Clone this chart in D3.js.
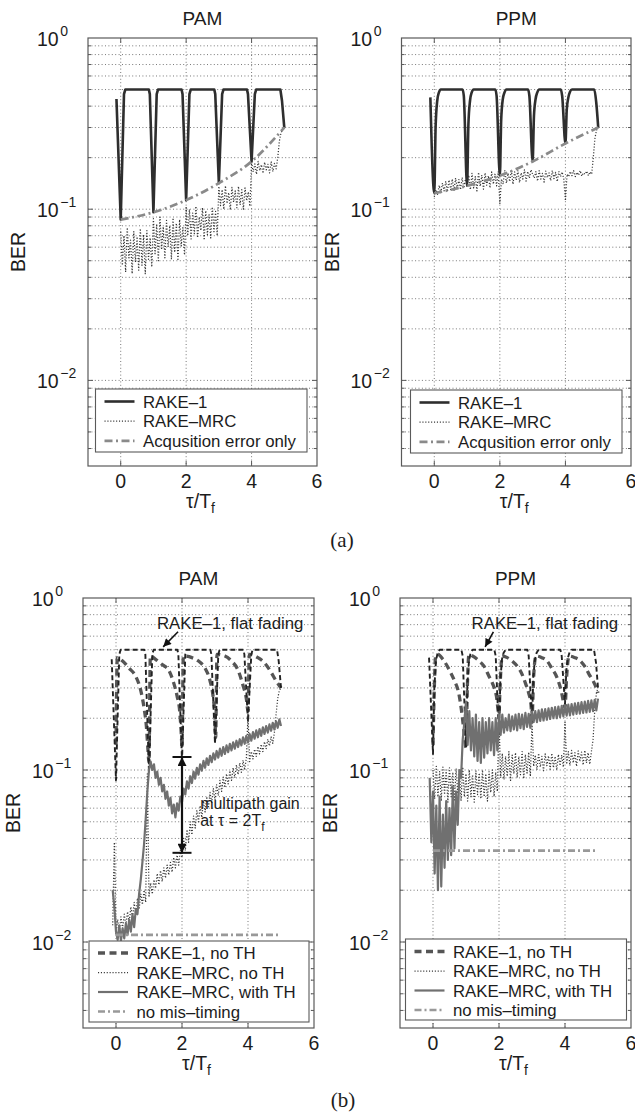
<!DOCTYPE html>
<html><head><meta charset="utf-8">
<script src="https://cdn.jsdelivr.net/npm/d3@7"></script>
<style>
body{margin:0;background:#fff;}
svg{display:block;font-family:"Liberation Sans",Arial,Helvetica,sans-serif;}
</style></head><body>
<script>
// ---------- axes ----------
const tauDomain = [-1, 6];
const berDomain = [Math.pow(10, -2.5), 1];
const tauTicks = [0, 2, 4, 6];
const berDecades = [1, 0.1, 0.01];

// ---------- (a) RAKE-1 under flat fading (also reused in (b)) ----------
const pamRake1Tau = [-0.13,0,0.1,0.14, 0.86,0.89,1,1.1,1.14, 1.86,1.89,2,2.1,2.14, 2.86,2.89,3,3.1,3.14, 3.86,3.89,4,4.1,4.14, 4.88,4.93,5];
const pamRake1Ber = [0.44,0.087,0.47,0.5, 0.5,0.47,0.096,0.47,0.5, 0.5,0.47,0.113,0.47,0.5, 0.5,0.47,0.142,0.47,0.5, 0.5,0.47,0.19,0.47,0.5, 0.5,0.43,0.3];
const ppmRake1Tau = [-0.12,0,0.04,0.09,0.14,0.2, 0.86,0.9,1,1.04,1.09,1.14,1.2, 1.86,1.9,2,2.04,2.09,2.14,2.2, 2.86,2.9,3,3.04,3.09,3.14,3.2, 3.86,3.9,4,4.04,4.09,4.14,4.2, 4.88,4.94,5];
const ppmRake1Ber = [0.45,0.124,0.3,0.43,0.48,0.5, 0.5,0.46,0.137,0.31,0.43,0.48,0.5, 0.5,0.46,0.157,0.33,0.44,0.48,0.5, 0.5,0.46,0.19,0.35,0.44,0.48,0.5, 0.5,0.46,0.242,0.38,0.45,0.485,0.5, 0.5,0.42,0.3];

// acquisition error only
const acqTau = [0, 1, 2, 3, 4, 5];
const pamAcqBer = [0.087, 0.096, 0.113, 0.142, 0.19, 0.3];
const ppmAcqBer = [0.124, 0.137, 0.157, 0.19, 0.242, 0.3];

// RAKE-MRC, delay sampled every 0.05 Tf on [0, 5]
const mrcStep = 0.05;
const pamMrcBer = [
  0.074,0.047,0.07,0.043,0.078,0.052,0.066,0.042,0.074,0.049,0.069,0.044,0.077,0.047,0.071,0.042,0.075,0.051,0.068,0.046,
  0.088,0.055,0.082,0.05,0.09,0.058,0.079,0.052,0.086,0.06,0.08,0.051,0.089,0.056,0.083,0.05,0.087,0.061,0.078,0.054,
  0.104,0.07,0.1,0.067,0.095,0.072,0.104,0.068,0.09,0.075,0.102,0.066,0.098,0.071,0.093,0.068,0.103,0.074,0.097,0.07,
  0.136,0.105,0.13,0.1,0.137,0.108,0.125,0.099,0.134,0.11,0.128,0.102,0.136,0.106,0.13,0.1,0.133,0.112,0.126,0.104,
  0.188,0.165,0.184,0.16,0.19,0.168,0.182,0.162,0.188,0.17,0.183,0.163,0.189,0.166,0.185,0.172,0.2,0.25,0.28,0.29,
  0.3];
const ppmMrcBer = [
  0.118,0.13,0.122,0.138,0.125,0.142,0.128,0.145,0.127,0.148,0.13,0.15,0.128,0.152,0.132,0.149,0.13,0.153,0.133,0.15,
  0.135,0.158,0.13,0.162,0.133,0.155,0.128,0.164,0.136,0.158,0.131,0.163,0.138,0.157,0.133,0.165,0.14,0.16,0.137,0.166,
  0.108,0.15,0.14,0.168,0.142,0.162,0.145,0.17,0.14,0.165,0.148,0.168,0.143,0.163,0.15,0.17,0.146,0.166,0.152,0.17,
  0.16,0.152,0.166,0.146,0.168,0.15,0.162,0.144,0.167,0.153,0.163,0.147,0.168,0.151,0.164,0.145,0.166,0.155,0.165,0.15,
  0.112,0.16,0.155,0.166,0.157,0.168,0.155,0.164,0.158,0.168,0.156,0.163,0.16,0.167,0.157,0.165,0.16,0.2,0.26,0.29,
  0.3];

// ---------- (b) ----------
// RAKE-1 without time hopping
const pamR1NoThTau = [0,0.04,0.2,0.4,0.6,0.75,0.85,0.92,0.97,1.0, 1.04,1.2,1.4,1.6,1.75,1.85,1.93,1.98,2.0, 2.04,2.3,2.5,2.7,2.85,2.95,3.0,3.02, 3.06,3.3,3.5,3.7,3.85,3.95,4.0, 4.04,4.3,4.5,4.7,4.85,5.0];
const pamR1NoThBer = [0.14,0.45,0.43,0.39,0.35,0.29,0.23,0.18,0.13,0.11, 0.46,0.44,0.41,0.38,0.32,0.27,0.22,0.16,0.135, 0.46,0.45,0.43,0.39,0.33,0.26,0.2,0.155, 0.47,0.46,0.43,0.38,0.31,0.26,0.22, 0.47,0.45,0.42,0.37,0.33,0.3];
const ppmR1NoThTau = [0,0.04,0.08,0.15,0.3,0.5,0.65,0.78,0.88,0.95,1.0, 1.04,1.09,1.2,1.4,1.55,1.7,1.8,1.92,2.0, 2.03,2.1,2.25,2.4,2.56,2.7,2.8,2.9,2.97,3.0, 3.05,3.12,3.3,3.46,3.6,3.77,3.9,3.97,4.0, 4.05,4.12,4.3,4.47,4.6,4.73,4.85,4.95,5.0];
const ppmR1NoThBer = [0.14,0.3,0.46,0.47,0.44,0.38,0.33,0.28,0.21,0.16,0.135, 0.3,0.47,0.46,0.43,0.4,0.35,0.32,0.27,0.21, 0.3,0.46,0.45,0.43,0.4,0.36,0.32,0.28,0.24,0.2, 0.35,0.46,0.45,0.43,0.39,0.34,0.28,0.24,0.23, 0.35,0.46,0.45,0.43,0.4,0.36,0.33,0.3,0.28];

// RAKE-MRC, delay sampled every 0.05 Tf on [-0.1, 5]
const pamMrcNoThBer = [
  0.0125,0.038,
  0.0112,0.0135,0.0115,0.014,0.012,0.0145,0.0125,0.015,0.013,0.016,0.0138,0.017,0.0145,0.018,0.0155,0.019,0.0165,0.02,0.017,0.095,
  0.0185,0.022,0.019,0.023,0.0205,0.025,0.0215,0.026,0.0225,0.027,0.0235,0.028,0.0245,0.029,0.0255,0.031,0.027,0.032,0.028,0.034,
  0.031,0.04,0.034,0.045,0.038,0.05,0.042,0.054,0.046,0.058,0.05,0.062,0.053,0.066,0.057,0.07,0.06,0.074,0.064,0.078,
  0.067,0.082,0.071,0.087,0.075,0.091,0.079,0.095,0.083,0.099,0.087,0.103,0.09,0.107,0.094,0.11,0.097,0.114,0.1,0.118,
  0.21,0.112,0.128,0.116,0.132,0.12,0.137,0.124,0.141,0.128,0.146,0.133,0.151,0.138,0.156,0.143,0.165,0.21,0.26,0.29,
  0.3];
const pamMrcThBer = [
  0.02,0.016,
  0.0115,0.0103,0.0125,0.0102,0.012,0.0105,0.0128,0.011,0.0135,0.0115,0.0145,0.0122,0.0155,0.0145,0.019,0.023,0.029,0.037,0.052,0.075,
  0.1,0.112,0.1,0.108,0.09,0.098,0.082,0.09,0.075,0.082,0.068,0.075,0.062,0.069,0.056,0.063,0.053,0.064,0.058,0.07,
  0.065,0.078,0.072,0.086,0.078,0.092,0.084,0.098,0.089,0.103,0.094,0.108,0.099,0.113,0.103,0.117,0.107,0.121,0.111,0.125,
  0.115,0.129,0.118,0.133,0.121,0.136,0.124,0.139,0.127,0.142,0.13,0.145,0.133,0.148,0.136,0.151,0.139,0.155,0.142,0.158,
  0.145,0.162,0.148,0.166,0.152,0.17,0.155,0.173,0.158,0.177,0.162,0.18,0.165,0.184,0.169,0.188,0.172,0.192,0.176,0.197,
  0.18];
const ppmMrcThBer = [
  0.09,0.038,
  0.075,0.025,0.062,0.02,0.07,0.021,0.055,0.027,0.066,0.03,0.06,0.032,0.08,0.035,0.075,0.048,0.1,0.09,0.15,0.19,
  0.25,0.14,0.22,0.13,0.2,0.12,0.21,0.113,0.19,0.11,0.2,0.118,0.19,0.125,0.2,0.13,0.19,0.122,0.2,0.13,
  0.21,0.16,0.21,0.165,0.2,0.17,0.21,0.168,0.205,0.172,0.21,0.17,0.212,0.175,0.21,0.173,0.215,0.178,0.212,0.176,
  0.218,0.19,0.22,0.19,0.222,0.193,0.225,0.194,0.226,0.196,0.228,0.198,0.23,0.2,0.232,0.2,0.234,0.203,0.236,0.205,
  0.238,0.207,0.24,0.208,0.242,0.21,0.244,0.212,0.246,0.213,0.248,0.215,0.25,0.216,0.252,0.218,0.254,0.22,0.256,0.222,
  0.26];
// RAKE-MRC without TH for PPM, sampled on [0, 5]
const ppmMrcNoThBer = [
  0.1,0.068,0.105,0.07,0.098,0.066,0.104,0.072,0.1,0.065,0.103,0.07,0.097,0.067,0.102,0.073,0.099,0.066,0.104,0.07,
  0.095,0.066,0.1,0.07,0.094,0.065,0.099,0.072,0.096,0.068,0.1,0.07,0.095,0.066,0.098,0.074,0.1,0.07,0.097,0.075,
  0.2,0.09,0.125,0.088,0.12,0.092,0.128,0.087,0.122,0.095,0.126,0.09,0.12,0.094,0.128,0.089,0.123,0.096,0.127,0.092,
  0.19,0.105,0.122,0.1,0.125,0.104,0.12,0.099,0.124,0.106,0.121,0.101,0.125,0.103,0.12,0.1,0.123,0.106,0.122,0.104,
  0.19,0.108,0.128,0.106,0.13,0.11,0.126,0.105,0.129,0.112,0.127,0.107,0.13,0.11,0.126,0.108,0.128,0.15,0.22,0.28,
  0.3];

// no mis-timing reference levels
const noMisTau = [0, 5];
const pamNoMisBer = [0.011, 0.011];
const ppmNoMisBer = [0.034, 0.034];

// multipath gain marker at tau = 2 Tf
const gainTau = 2;
const gainBer = [0.119, 0.033];

// sampling grids of the delay axis
const gridFrom = (start, n) => d3.range(n).map(i => +(start + i * mrcStep).toFixed(2));
const tau0 = gridFrom(0, 101);
const tauNeg = gridFrom(-0.1, 103);

// ---------- drawing ----------
const W = 635, H = 1117;
const svg = d3.select('body').append('svg').attr('width', W).attr('height', H);
svg.append('rect').attr('width', W).attr('height', H).attr('fill', '#fff');
const defs = svg.append('defs');

const TXT = '#1c1c1c';
const styles = {
  rake1:   {stroke: '#2e2e2e', width: 2.6, dash: null},
  mrcDot:  {stroke: '#363636', width: 1.25, dash: '1.1,1.8'},
  acq:     {stroke: '#8a8a8a', width: 2.7, dash: '8,3.5,2,3.5'},
  flat:    {stroke: '#222', width: 1.9, dash: '5,3'},
  r1NoTh:  {stroke: '#555', width: 3.3, dash: '7,4.5'},
  mrcTh:   {stroke: '#707070', width: 2.2, dash: null},
  noMis:   {stroke: '#999', width: 2.6, dash: '7,3,2,3'}
};

function panel(p) {
  const x = d3.scaleLinear().domain(tauDomain).range([p.l, p.r]);
  const y = d3.scaleLog().domain(berDomain).range([p.b, p.t]);
  const g = svg.append('g');
  defs.append('clipPath').attr('id', 'clip-' + p.key)
    .append('rect').attr('x', p.l).attr('y', p.t).attr('width', p.r - p.l).attr('height', p.b - p.t);

  // grid
  const gridVals = [];
  [0.001, 0.01, 0.1].forEach(dec => d3.range(1, 10).forEach(m => {
    const v = m * dec;
    if (v > berDomain[0] && v < 1) gridVals.push(v);
  }));
  const grid = g.append('g').attr('stroke', '#6a6a6a').attr('stroke-width', 0.9).attr('stroke-dasharray', '1,2.4');
  gridVals.forEach(v => grid.append('line').attr('x1', p.l).attr('x2', p.r).attr('y1', y(v)).attr('y2', y(v)));
  tauTicks.filter(t => t < tauDomain[1]).forEach(t =>
    grid.append('line').attr('x1', x(t)).attr('x2', x(t)).attr('y1', p.t).attr('y2', p.b));

  const plot = g.append('g').attr('clip-path', 'url(#clip-' + p.key + ')');

  // frame + inner ticks
  const frame = svg.append('g');
  frame.append('rect').attr('x', p.l).attr('y', p.t).attr('width', p.r - p.l).attr('height', p.b - p.t)
    .attr('fill', 'none').attr('stroke', '#5a5a5a').attr('stroke-width', 1.2);
  const tk = frame.append('g').attr('stroke', '#5a5a5a').attr('stroke-width', 1);
  tauTicks.filter(t => t < tauDomain[1]).forEach(t => {
    tk.append('line').attr('x1', x(t)).attr('x2', x(t)).attr('y1', p.b).attr('y2', p.b - 5);
    tk.append('line').attr('x1', x(t)).attr('x2', x(t)).attr('y1', p.t).attr('y2', p.t + 5);
  });
  gridVals.forEach(v => {
    const len = berDecades.includes(+v.toPrecision(3)) ? 5 : 3;
    tk.append('line').attr('x1', p.l).attr('x2', p.l + len).attr('y1', y(v)).attr('y2', y(v));
    tk.append('line').attr('x1', p.r).attr('x2', p.r - len).attr('y1', y(v)).attr('y2', y(v));
  });

  // tick labels
  tauTicks.forEach(t => svg.append('text').attr('x', x(t)).attr('y', p.b + 22)
    .attr('text-anchor', 'middle').attr('font-size', 19.5).attr('fill', TXT).text(t));
  berDecades.forEach(v => {
    const e = Math.round(Math.log10(v));
    const t = svg.append('text').attr('x', p.l - 51).attr('y', y(v) + 8)
      .attr('font-size', 19.5).attr('fill', TXT);
    t.append('tspan').text('10');
    t.append('tspan').attr('dy', -10.5).attr('dx', 1.5).attr('font-size', 14).text(e === 0 ? '0' : '\u2212' + (-e));
  });

  // axis labels and title
  const xl = svg.append('text').attr('x', (p.l + p.r) / 2 - 2).attr('y', p.b + 42)
    .attr('text-anchor', 'middle').attr('font-size', 19.5).attr('fill', TXT);
  xl.append('tspan').text('\u03c4/T');
  xl.append('tspan').attr('dy', 5).attr('font-size', 14).text('f');
  svg.append('text').attr('transform', `translate(${p.l - 63},${(p.t + p.b) / 2}) rotate(-90)`)
    .attr('text-anchor', 'middle').attr('font-size', 19.5).attr('fill', TXT).text('BER');
  svg.append('text').attr('x', (p.l + p.r) / 2).attr('y', p.t - 13)
    .attr('text-anchor', 'middle').attr('font-size', 19).attr('fill', TXT).text(p.title);

  return {x, y, plot, p};
}

function series(P, taus, bers, st, curve) {
  const pts = taus.map((t, i) => [t, bers[i]]);
  const line = d3.line().x(d => P.x(d[0])).y(d => P.y(d[1])).curve(curve || d3.curveLinear);
  const path = P.plot.append('path').datum(pts).attr('d', line)
    .attr('fill', 'none').attr('stroke', st.stroke).attr('stroke-width', st.width)
    .attr('stroke-linejoin', 'round');
  if (st.dash) path.attr('stroke-dasharray', st.dash);
  return path;
}

function legend(box, rows, rowGap, items) {
  const g = svg.append('g');
  g.append('rect').attr('x', box.x).attr('y', box.y).attr('width', box.w).attr('height', box.h)
    .attr('fill', '#fff').attr('stroke', '#5a5a5a').attr('stroke-width', 1.1);
  items.forEach((it, i) => {
    const yy = rows + i * rowGap;
    const ln = g.append('line').attr('x1', box.x + 9).attr('x2', box.x + 39).attr('y1', yy).attr('y2', yy)
      .attr('stroke', it.st.stroke).attr('stroke-width', it.st.width);
    if (it.st.dash) ln.attr('stroke-dasharray', it.st.dash);
    g.append('text').attr('x', box.x + 47.5).attr('y', yy + 6).attr('font-size', 16.8).attr('fill', TXT).text(it.label);
  });
}

// arrowheads
defs.append('marker').attr('id', 'headSmall').attr('viewBox', '0 0 10 10').attr('refX', 10).attr('refY', 5)
  .attr('markerUnits', 'userSpaceOnUse').attr('markerWidth', 9).attr('markerHeight', 8).attr('orient', 'auto')
  .append('path').attr('d', 'M0,0L10,5L0,10z').attr('fill', '#111');
defs.append('marker').attr('id', 'headBig').attr('viewBox', '0 0 10 10').attr('refX', 10).attr('refY', 5)
  .attr('markerUnits', 'userSpaceOnUse').attr('markerWidth', 12).attr('markerHeight', 9).attr('orient', 'auto-start-reverse')
  .append('path').attr('d', 'M0,0L10,5L0,10z').attr('fill', '#111');

// ===== (a) PAM =====
const A1 = panel({key: 'a1', l: 88, r: 317, t: 38, b: 466, title: 'PAM'});
series(A1, pamRake1Tau, pamRake1Ber, styles.rake1);
series(A1, tau0, pamMrcBer, styles.mrcDot);
series(A1, acqTau, pamAcqBer, styles.acq, d3.curveMonotoneX);
legend({x: 95.5, y: 389, w: 211.5, h: 63}, 401.5, 19.7, [
  {st: styles.rake1, label: 'RAKE\u20131'},
  {st: styles.mrcDot, label: 'RAKE\u2013MRC'},
  {st: styles.acq, label: 'Acqusition error only'}]);

// ===== (a) PPM =====
const A2 = panel({key: 'a2', l: 401.5, r: 631, t: 38, b: 466, title: 'PPM'});
series(A2, ppmRake1Tau, ppmRake1Ber, styles.rake1, d3.curveMonotoneX);
series(A2, tau0, ppmMrcBer, styles.mrcDot);
series(A2, acqTau, ppmAcqBer, styles.acq, d3.curveMonotoneX);
legend({x: 410.5, y: 390, w: 211.5, h: 63}, 402.5, 19.7, [
  {st: styles.rake1, label: 'RAKE\u20131'},
  {st: styles.mrcDot, label: 'RAKE\u2013MRC'},
  {st: styles.acq, label: 'Acqusition error only'}]);

svg.append('text').attr('x', 342).attr('y', 547).attr('text-anchor', 'middle')
  .attr('font-family', '"Liberation Serif","Times New Roman",serif').attr('font-size', 21).attr('fill', TXT).text('(a)');

// ===== (b) PAM =====
const B1 = panel({key: 'b1', l: 83, r: 314, t: 598, b: 1028, title: 'PAM'});
series(B1, pamR1NoThTau, pamR1NoThBer, styles.r1NoTh, d3.curveMonotoneX);
series(B1, pamRake1Tau, pamRake1Ber, styles.flat);
series(B1, tauNeg, pamMrcNoThBer, styles.mrcDot);
series(B1, tauNeg, pamMrcThBer, styles.mrcTh);
series(B1, noMisTau, pamNoMisBer, styles.noMis);

// ===== (b) PPM =====
const B2 = panel({key: 'b2', l: 400, r: 631, t: 598, b: 1028, title: 'PPM'});
series(B2, ppmR1NoThTau, ppmR1NoThBer, styles.r1NoTh, d3.curveMonotoneX);
series(B2, ppmRake1Tau, ppmRake1Ber, styles.flat);
series(B2, tau0, ppmMrcNoThBer, styles.mrcDot);
series(B2, tauNeg, ppmMrcThBer, styles.mrcTh);
series(B2, noMisTau, ppmNoMisBer, styles.noMis);

// annotations in (b)
function flatNote(P, tx, ax1, ax2) {
  svg.append('text').attr('x', P.x(tx)).attr('y', P.y(0.66)).attr('font-size', 16.8).attr('fill', TXT)
    .text('RAKE\u20131, flat fading');
  svg.append('line').attr('x1', P.x(ax1)).attr('y1', P.y(0.636)).attr('x2', P.x(ax2)).attr('y2', P.y(0.52))
    .attr('stroke', '#111').attr('stroke-width', 1.6).attr('marker-end', 'url(#headSmall)');
}
flatNote(B1, 1.24, 1.88, 1.43);
flatNote(B2, 1.17, 1.83, 1.58);

// multipath gain double arrow
const gx = B1.x(gainTau);
svg.append('line').attr('x1', gx).attr('x2', gx).attr('y1', B1.y(gainBer[0])).attr('y2', B1.y(gainBer[1]))
  .attr('stroke', '#111').attr('stroke-width', 2.2)
  .attr('marker-start', 'url(#headBig)').attr('marker-end', 'url(#headBig)');
gainBer.forEach(v => svg.append('line').attr('x1', gx - 9.5).attr('x2', gx + 9.5)
  .attr('y1', B1.y(v)).attr('y2', B1.y(v)).attr('stroke', '#111').attr('stroke-width', 2));
svg.append('text').attr('x', B1.x(2.55)).attr('y', B1.y(0.0595)).attr('font-size', 16).attr('fill', TXT).text('multipath gain');
const at = svg.append('text').attr('x', B1.x(2.55)).attr('y', B1.y(0.0472)).attr('font-size', 16).attr('fill', TXT);
at.append('tspan').text('at \u03c4 = 2T');
at.append('tspan').attr('dy', 5).attr('font-size', 12).text('f');

legend({x: 89, y: 941, w: 220, h: 81}, 953, 19.5, [
  {st: styles.r1NoTh, label: 'RAKE\u20131, no TH'},
  {st: styles.mrcDot, label: 'RAKE\u2013MRC, no TH'},
  {st: styles.mrcTh, label: 'RAKE\u2013MRC, with TH'},
  {st: styles.noMis, label: 'no mis\u2013timing'}]);
legend({x: 405.5, y: 939, w: 221, h: 81}, 951.5, 19.5, [
  {st: styles.r1NoTh, label: 'RAKE\u20131, no TH'},
  {st: styles.mrcDot, label: 'RAKE\u2013MRC, no TH'},
  {st: styles.mrcTh, label: 'RAKE\u2013MRC, with TH'},
  {st: styles.noMis, label: 'no mis\u2013timing'}]);

svg.append('text').attr('x', 343).attr('y', 1107).attr('text-anchor', 'middle')
  .attr('font-family', '"Liberation Serif","Times New Roman",serif').attr('font-size', 21).attr('fill', TXT).text('(b)');
</script></body></html>
